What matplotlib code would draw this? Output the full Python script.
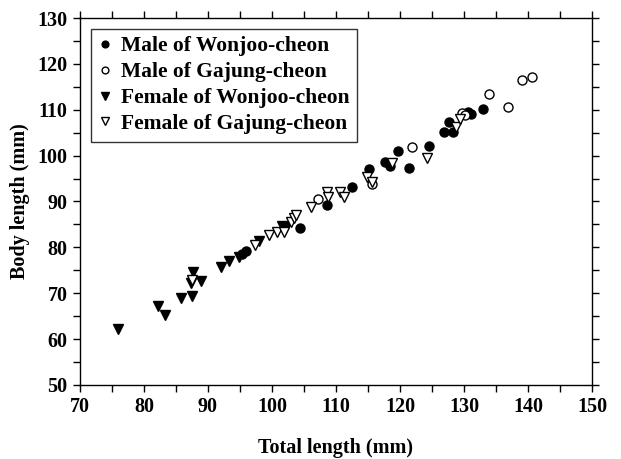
import matplotlib.pyplot as plt
from matplotlib.ticker import MultipleLocator

plt.rcParams['font.family'] = ['Liberation Serif', 'DejaVu Serif']
plt.rcParams['font.weight'] = 'bold'
plt.rcParams['axes.labelweight'] = 'bold'

# Male of Wonjoo-cheon (filled circles)
mw_x = [95.3, 95.9, 104.4, 108.6, 112.5, 115.2, 117.6, 118.5, 119.7, 121.4,
        124.5, 126.9, 127.7, 128.3, 130.7, 131.1, 133.0]
mw_y = [78.5, 79.2, 84.3, 89.2, 93.1, 97.0, 98.7, 97.7, 100.9, 97.3,
        102.2, 105.1, 107.3, 105.1, 109.5, 109.0, 110.2]

# Male of Gajung-cheon (open circles)
mg_x = [107.2, 115.7, 121.9, 129.7, 130.1, 133.9, 136.9, 139.0, 140.6]
mg_y = [90.5, 93.8, 101.8, 109.3, 108.8, 113.5, 110.6, 116.5, 117.2]

# Female of Wonjoo-cheon (filled triangles)
fw_x = [75.9, 82.2, 83.3, 85.8, 87.5, 87.7, 87.4, 88.9, 92.1, 93.3,
        94.9, 97.9, 101.6, 102.2]
fw_y = [62.1, 67.2, 65.2, 69.0, 69.3, 74.6, 72.2, 72.7, 75.8, 77.0,
        78.0, 81.4, 84.6, 84.4]

# Female of Gajung-cheon (open triangles)
fg_x = [87.5, 97.4, 99.5, 100.8, 101.9, 103.0, 103.4, 103.8, 106.1, 108.6,
        108.8, 110.7, 111.2, 114.8, 115.7, 118.8, 124.2, 128.7, 129.3]
fg_y = [72.9, 80.6, 82.7, 83.3, 83.4, 85.6, 86.3, 87.1, 88.9, 92.1,
        91.0, 92.1, 91.0, 95.4, 94.3, 98.3, 99.5, 106.3, 107.9]

fig = plt.figure(figsize=(6.21, 4.59), dpi=100)
ax = fig.add_axes([80 / 621, 1 - 385 / 459, 512 / 621, 367 / 459])

ax.plot(mw_x, mw_y, 'o', color='black', markersize=6.5, label='Male of Wonjoo-cheon')
ax.plot(mg_x, mg_y, 'o', mfc='white', mec='black', mew=1.0, markersize=6.5,
        label='Male of Gajung-cheon')
ax.plot(fw_x, fw_y, 'v', color='black', markersize=7.5, label='Female of Wonjoo-cheon')
ax.plot(fg_x, fg_y, 'v', mfc='white', mec='black', mew=1.0, markersize=7.5,
        label='Female of Gajung-cheon')

ax.set_xlim(70, 150)
ax.set_ylim(50, 130)
ax.xaxis.set_major_locator(MultipleLocator(10))
ax.xaxis.set_minor_locator(MultipleLocator(5))
ax.yaxis.set_major_locator(MultipleLocator(10))
ax.yaxis.set_minor_locator(MultipleLocator(5))
ax.tick_params(which='both', direction='out', top=True, right=True,
               labelsize=14.5, width=1.0, length=5, pad=4)
for s in ax.spines.values():
    s.set_linewidth(1.0)

ax.set_xlabel('Total length (mm)', fontsize=14.5, labelpad=15)
ax.set_ylabel('Body length (mm)', fontsize=14.5, labelpad=5)

leg = ax.legend(loc='upper left', fontsize=15.5, markerscale=0.75, frameon=True,
                fancybox=False, edgecolor='black', borderaxespad=0.5,
                handlelength=0.6, handletextpad=0.45, labelspacing=0.27,
                borderpad=0.35)
leg.get_frame().set_linewidth(1.0)

fig.savefig('out.png', dpi=100)
